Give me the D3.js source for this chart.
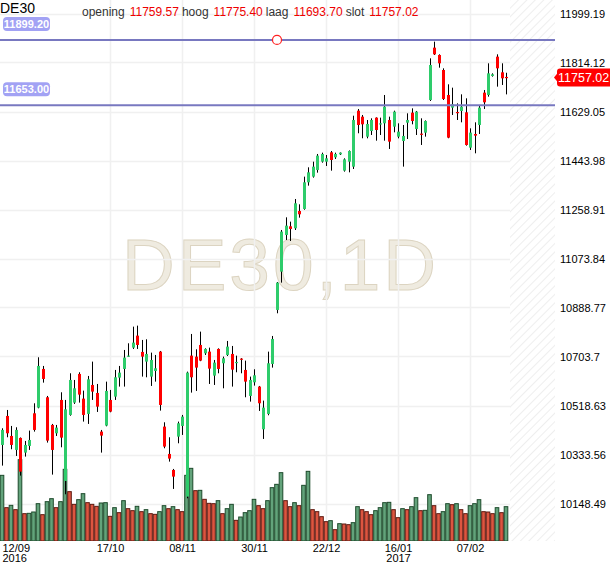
<!DOCTYPE html>
<html>
<head>
<meta charset="utf-8">
<script src="https://cdnjs.cloudflare.com/ajax/libs/d3/7.8.5/d3.min.js"></script>
<style>
  body { margin: 0; background: #fff; }
  text { font-family: Arial, "Liberation Sans", sans-serif; }
</style>
</head>
<body>
<div id="grafico"></div>
<script>
// koersen DE30 dagkaarsen (eerste zichtbare = 13/09/2016, laatste = 17/02/2017)
const opens = [
  10369.6, 10479.2, 10403.6, 10350.8, 10396.1, 10340.7, 10365.9, 10489.2, 10510.6, 10656.7,
  10549.7, 10445.2, 10413.7, 10539.6, 10233.7, 10483.0, 10529.5, 10637.8, 10544.6, 10486.7,
  10596.2, 10566.0, 10420.0, 10442.7, 10539.6, 10552.2, 10623.9, 10656.7, 10703.2, 10737.2,
  10782.5, 10720.9, 10684.4, 10627.7, 10649.1, 10722.1, 10438.9, 10335.7, 10275.2, 10401.1,
  10441.4, 10174.5, 10707.0, 10703.2, 10747.3, 10715.8, 10722.1, 10631.5, 10732.2, 10678.1,
  10709.5, 10713.3, 10680.6, 10695.7, 10652.9, 10554.7, 10606.3, 10590.0, 10428.8, 10486.7,
  10675.5, 10879.5, 11024.2, 11162.7, 11195.4, 11187.9, 11253.3, 11260.9, 11361.6, 11383.0,
  11408.2, 11439.6, 11439.6, 11474.9, 11456.0, 11467.3, 11405.6, 11439.6, 11420.6, 11632.1,
  11609.5, 11534.0, 11555.4, 11605.8, 11580.6, 11584.4, 11597.0, 11571.8, 11534.0, 11517.7,
  11586.9, 11624.7, 11563.0, 11545.4, 11549.1, 11672.5, 11870.2, 11842.5, 11785.8, 11691.4,
  11643.6, 11627.2, 11631.0, 11626.0, 11492.5, 11544.1, 11578.1, 11700.2, 11691.4, 11763.2,
  11836.2, 11777.0, 11759.57];
const highs = [
  10432.6, 10501.8, 10441.4, 10436.4, 10398.0, 10384.7, 10423.8, 10527.0, 10700.7, 10668.0,
  10554.7, 10449.0, 10445.2, 10568.5, 10539.6, 10640.3, 10615.1, 10644.1, 10574.8, 10630.2,
  10684.4, 10600.0, 10426.3, 10608.8, 10577.4, 10652.9, 10668.0, 10728.4, 10753.6, 10816.5,
  10820.3, 10766.2, 10768.7, 10718.3, 10709.5, 10724.6, 10455.2, 10398.6, 10279.0, 10457.8,
  10483.0, 10646.6, 10788.8, 10730.9, 10797.6, 10734.7, 10737.2, 10690.6, 10734.5, 10703.2,
  10762.4, 10743.5, 10707.0, 10697.5, 10688.1, 10627.7, 10655.4, 10592.5, 10537.1, 10722.1,
  10781.3, 10985.0, 11181.6, 11229.4, 11213.0, 11298.6, 11278.5, 11383.0, 11418.2, 11439.6,
  11468.6, 11473.6, 11464.8, 11479.9, 11473.6, 11474.5, 11452.2, 11482.0, 11613.2, 11638.5,
  11615.9, 11597.0, 11603.3, 11607.0, 11605.8, 11691.4, 11609.6, 11632.2, 11584.4, 11578.1,
  11622.2, 11641.0, 11631.0, 11603.3, 11595.5, 11829.9, 11892.8, 11845.0, 11792.1, 11731.7,
  11719.1, 11659.9, 11693.9, 11678.8, 11565.5, 11588.2, 11653.7, 11710.3, 11811.0, 11773.2,
  11845.0, 11811.0, 11775.40];
const lows = [
  10291.6, 10398.6, 10353.3, 10328.1, 10253.8, 10325.6, 10350.8, 10420.0, 10508.0, 10605.0,
  10378.5, 10257.6, 10403.6, 10360.8, 10183.3, 10480.0, 10524.5, 10529.5, 10457.8, 10449.0,
  10539.6, 10494.3, 10340.7, 10440.0, 10493.0, 10539.6, 10590.0, 10590.0, 10702.0, 10732.2,
  10732.2, 10627.7, 10625.2, 10592.5, 10608.8, 10499.3, 10357.0, 10306.7, 10203.5, 10375.9,
  10407.4, 10168.2, 10567.3, 10573.6, 10686.0, 10709.5, 10600.0, 10596.2, 10640.3, 10583.6,
  10705.7, 10590.0, 10644.1, 10640.3, 10549.7, 10533.3, 10593.7, 10498.1, 10392.3, 10481.7,
  10661.7, 10866.9, 10982.7, 11143.8, 11140.0, 11181.6, 11228.1, 11258.0, 11349.0, 11379.2,
  11398.1, 11435.8, 11423.3, 11405.6, 11449.7, 11464.8, 11401.9, 11399.3, 11411.9, 11546.8,
  11527.9, 11527.7, 11540.3, 11518.9, 11540.3, 11518.9, 11487.5, 11550.4, 11527.7, 11420.8,
  11525.2, 11580.6, 11540.3, 11502.6, 11534.0, 11668.8, 11842.5, 11794.6, 11672.5, 11528.0,
  11615.9, 11597.0, 11588.2, 11500.0, 11483.7, 11471.1, 11544.1, 11638.5, 11685.1, 11760.7,
  11722.9, 11729.2, 11693.70];
const closes = [
  10426.3, 10413.7, 10369.6, 10426.3, 10268.9, 10369.6, 10388.5, 10426.3, 10668.0, 10618.9,
  10386.0, 10350.8, 10435.1, 10397.3, 10504.3, 10615.1, 10583.6, 10559.7, 10483.0, 10617.6,
  10571.1, 10514.4, 10404.9, 10573.6, 10495.5, 10625.2, 10642.8, 10699.5, 10707.0, 10756.1,
  10747.3, 10703.2, 10713.3, 10690.6, 10659.2, 10520.7, 10363.4, 10318.0, 10250.0, 10451.5,
  10476.6, 10642.8, 10625.2, 10661.7, 10688.1, 10732.2, 10657.9, 10680.6, 10656.7, 10696.9,
  10741.0, 10654.1, 10683.1, 10693.2, 10608.8, 10615.1, 10632.7, 10527.0, 10510.6, 10678.1,
  10769.9, 10982.7, 11175.3, 11197.9, 11185.4, 11282.3, 11240.7, 11361.6, 11399.3, 11420.7,
  11462.3, 11468.6, 11452.2, 11445.9, 11468.6, 11473.6, 11448.4, 11479.9, 11597.0, 11578.1,
  11580.7, 11581.9, 11597.0, 11559.2, 11584.4, 11647.3, 11515.2, 11628.4, 11552.9, 11536.6,
  11597.0, 11593.2, 11628.4, 11542.8, 11593.2, 11804.7, 11845.0, 11811.0, 11676.3, 11530.3,
  11656.2, 11624.7, 11647.4, 11502.6, 11549.2, 11537.8, 11643.6, 11663.7, 11773.2, 11769.5,
  11792.1, 11754.4, 11757.02];
// volume (relatief)
const volumes = [
  197, 100, 107, 94, 244, 82, 83, 87, 112, 79,
  118, 127, 100, 118, 215, 148, 110, 124, 142, 115,
  110, 104, 114, 115, 74, 100, 85, 121, 97, 91,
  104, 88, 94, 82, 80, 88, 106, 97, 103, 94,
  88, 197, 218, 151, 152, 125, 113, 112, 121, 82,
  97, 110, 62, 72, 85, 91, 125, 106, 97, 121,
  160, 170, 205, 121, 103, 115, 106, 167, 209, 94,
  88, 73, 58, 61, 34, 52, 51, 49, 55, 103,
  94, 88, 79, 91, 100, 115, 116, 94, 70, 97,
  94, 103, 130, 91, 92, 139, 106, 82, 88, 112,
  109, 112, 94, 82, 106, 112, 124, 88, 87, 82,
  100, 85, 103];

const prijsTicks = [10148.49, 10333.56, 10518.63, 10703.7, 10888.77, 11073.84,
                    11258.91, 11443.98, 11629.05, 11814.12, 11999.19];
// datumlabels: index in de kaarsen (-1 = 12/09, net buiten beeld)
const datumIdx = [-1, 24, 40, 56, 72, 88, 104];
const datumLabels = ["12/09", "17/10", "08/11", "30/11", "22/12", "16/01", "07/02"];
const jaarLabels = ["2016", "", "", "", "", "2017", ""];
const niveaus = [11899.20, 11653.00];
const kop = [["opening", "11759.57"], ["hoog", "11775.40"], ["laag", "11693.70"], ["slot", "11757.02"]];

const W = 610, H = 568;
const plotRight = 555, hatchLeft = 510, basis = 541;

const svg = d3.select("#grafico").append("svg")
    .attr("width", W).attr("height", H);

const defs = svg.append("defs");
defs.append("clipPath").attr("id", "plot")
    .append("rect").attr("x", 0).attr("y", 0).attr("width", plotRight).attr("height", basis);
const pat = defs.append("pattern").attr("id", "arcering")
    .attr("patternUnits", "userSpaceOnUse")
    .attr("width", 6).attr("height", 6)
    .attr("patternTransform", "rotate(45)");
pat.append("line").attr("x1", 0).attr("y1", 0).attr("x2", 0).attr("y2", 6)
    .attr("stroke", "#e9e9e9").attr("stroke-width", 1.5);

const x = d3.scaleLinear().domain([-1, 112]).range([-2.5, 506]);
const y = d3.scaleLinear().domain([10148.49, 11999.19]).range([503.5, 13.5]);
const vy = d3.scaleLinear().domain([0, 300]).range([basis, basis - 100]);

const plot = svg.append("g").attr("clip-path", "url(#plot)");

//Watermerk
plot.append("text")
    .attr("x", 122).attr("y", 290)
    .attr("textLength", 314).attr("lengthAdjust", "spacing")
    .style("font-size", "73px")
    .style("fill", "#efebe0")
    .style("stroke", "#dcd4c1")
    .style("stroke-width", 1)
    .text("DE30,1D");

//Rasterlijnen
plot.append("g").selectAll("line").data(prijsTicks).enter().append("line")
    .attr("x1", 0).attr("x2", hatchLeft)
    .attr("y1", d => Math.round(y(d)) + 0.5).attr("y2", d => Math.round(y(d)) + 0.5)
    .attr("stroke", "#f0f0f0").attr("stroke-width", 1.5);
plot.append("g").selectAll("line").data(datumIdx).enter().append("line")
    .attr("x1", d => Math.round(x(d)) + 0.5).attr("x2", d => Math.round(x(d)) + 0.5)
    .attr("y1", 0).attr("y2", basis)
    .attr("stroke", "#f0f0f0").attr("stroke-width", 1.5);

//Arcering toekomst
plot.append("rect")
    .attr("x", hatchLeft).attr("y", 0)
    .attr("width", plotRight - hatchLeft).attr("height", basis)
    .attr("fill", "url(#arcering)");

//Volume
plot.append("g").selectAll("rect").data(volumes).enter().append("rect")
    .attr("x", (d, i) => x(i) - 1.8)
    .attr("y", d => vy(d))
    .attr("width", 3.6)
    .attr("height", d => basis - vy(d))
    .attr("fill", (d, i) => (i === 0 || d > volumes[i - 1]) ? "#63a37b" : "#dd5540")
    .attr("stroke", (d, i) => (i === 0 || d > volumes[i - 1]) ? "#1d4a2b" : "#5e1a10")
    .attr("stroke-width", 1);

//Kaarsen
const kaarsen = plot.append("g").selectAll("g").data(opens).enter().append("g");
kaarsen.append("line")
    .attr("x1", (d, i) => Math.round(x(i)) + 0.5).attr("x2", (d, i) => Math.round(x(i)) + 0.5)
    .attr("y1", (d, i) => y(highs[i])).attr("y2", (d, i) => y(lows[i]))
    .attr("stroke", "#000").attr("stroke-width", 1);
kaarsen.append("rect")
    .attr("x", (d, i) => Math.round(x(i)) - 1)
    .attr("y", (d, i) => y(Math.max(d, closes[i])))
    .attr("width", 3)
    .attr("height", (d, i) => Math.max(1.2, Math.abs(y(d) - y(closes[i]))))
    .attr("fill", (d, i) => closes[i] >= d ? "#2ecc6b" : "#ff0000");

//Niveaulijnen
svg.append("g").selectAll("line").data(niveaus).enter().append("line")
    .attr("x1", 0).attr("x2", plotRight)
    .attr("y1", d => y(d)).attr("y2", d => y(d))
    .attr("stroke", "#7878c0").attr("stroke-width", 2);
svg.append("circle")
    .attr("cx", 277).attr("cy", y(niveaus[0])).attr("r", 4.5)
    .attr("fill", "#fff").attr("stroke", "#ff2020").attr("stroke-width", 1.2);
const lab = svg.append("g").selectAll("g").data(niveaus).enter().append("g")
    .attr("transform", d => "translate(3," + (y(d) - 23) + ")");
lab.append("rect").attr("width", 47).attr("height", 14).attr("rx", 4)
    .attr("fill", "#a2a2f4");
lab.append("text").attr("x", 23.5).attr("y", 11).attr("text-anchor", "middle")
    .style("font-size", "11px").style("font-weight", "bold").style("fill", "#fff")
    .text(d => d.toFixed(2));

//As rechts
const asY = svg.append("g")
    .attr("transform", "translate(557,0)")
    .call(d3.axisRight(y).tickValues(prijsTicks).tickSize(0).tickPadding(3).tickFormat(d => String(d)));
asY.select(".domain").remove();
asY.selectAll("text").style("font-size", "11px").style("fill", "#000")
    .style("font-family", "Arial, 'Liberation Sans', sans-serif");

//Laatste koers
const laatste = closes[closes.length - 1];
const tag = svg.append("g").attr("transform", "translate(557," + y(laatste) + ")");
tag.append("path").attr("d", "M-3,0 L1,-5 L1,5 Z").attr("fill", "#ff0000");
tag.append("rect").attr("x", 0).attr("y", -9).attr("width", 58).attr("height", 18).attr("rx", 3)
    .attr("fill", "#ff0000");
tag.append("text").attr("x", 1).attr("y", 4.5)
    .style("font-size", "12.5px").style("fill", "#fff")
    .text(laatste.toFixed(2));

//As onder
const asX = svg.append("g")
    .attr("transform", "translate(0," + basis + ")")
    .call(d3.axisBottom(x).tickValues(datumIdx).tickSize(0).tickPadding(3)
        .tickFormat((d, i) => datumLabels[i]));
asX.select(".domain").remove();
asX.selectAll("text").style("font-size", "11px").style("fill", "#000")
    .style("font-family", "Arial, 'Liberation Sans', sans-serif")
    .attr("dy", "0.71em");
asX.selectAll(".tick").filter(d => d < 0).select("text")
    .attr("text-anchor", "start").attr("x", 4.5);
asX.selectAll(".tick").append("text")
    .attr("y", 13.5).attr("dy", "0.71em")
    .attr("text-anchor", d => d < 0 ? "start" : "middle")
    .attr("x", d => d < 0 ? 4.5 : 0)
    .style("font-size", "11px").style("fill", "#000")
    .text((d, i) => jaarLabels[i]);

//Kop
svg.append("text").attr("x", 0).attr("y", 13)
    .style("font-size", "14px").style("fill", "#000").text("DE30");
const kopTekst = svg.append("text").attr("x", 82).attr("y", 16).style("font-size", "12px");
kop.forEach((k, i) => {
    kopTekst.append("tspan").attr("dx", i === 0 ? 0 : 3).style("fill", "#333").text(k[0]);
    kopTekst.append("tspan").attr("dx", 5).style("fill", "#ee0000").text(k[1]);
});
</script>
</body>
</html>
